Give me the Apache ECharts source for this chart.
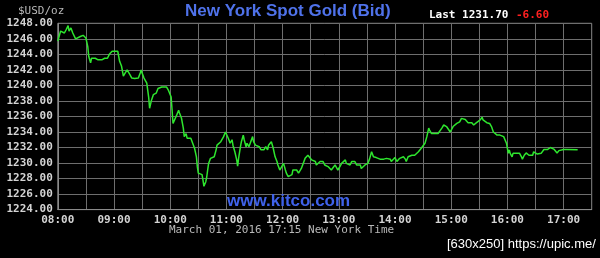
<!DOCTYPE html>
<html>
<head>
<meta charset="utf-8">
<script src="https://cdn.jsdelivr.net/npm/echarts@6/dist/echarts.min.js"></script>
<style>
html,body{margin:0;padding:0;background:#000;}
#chart{width:600px;height:258px;}
</style>
</head>
<body>
<div id="chart"></div>
<script>
// minutes after 08:00 (New York time)
var tMin = [0,3,5,7,9,11,12,14,16,18,19,21,24,27,29,30,32,33,35,36,38,40,43,45,47,49,50,52,53,55,57,58,60,61,63,64,65,66,68,70,72,74,75,77,79,82,86,88,89,90,92,
95,97,98,100,102,105,107,109,111,113,116,118,121,122,123,125,127,129,130,132,134,135,137,138,140,142,144,146,148,149,150,152,154,155,156,158,159,160,161,163,165,167,169,170,172,174,176,177,179,180,182,184,186,187,189,191,192,193,195,196,198,199,201,202,204,206,208,209,211,213,215,217,218,220,222,224,225,
228,230,232,234,235,237,239,241,243,244,246,248,250,251,253,255,257,259,260,262,264,266,267,269,271,273,275,276,278,280,282,283,285,287,289,291,292,294,296,298,299,301,303,305,307,308,310,312,314,315,317,319,321,323,324,326,328,330,331,333,335,337,339,340,342,344,346,348,349,351,353,355,356,358,360,362,364,365,367,369,371,372,374,376,378,380,381,383,385,
387,388,390,392,394,396,397,399,403,406,408,410,412,413,415,417,419,421,422,424,426,428,429,431,433,435,437,438,440,442,444,445,447,449,451,453,454,456,458,460,461,463,465,467,469,472,474,476,477,479,480,481,482,483,485,486,488,490,492,493,495,496,498,500,501,503,505,507,508,510,512,514,516,517,519,521,523,524,526,528,530,532,533,535,537,540,543,555];
var price = [1245.7,1247.0,1247.2,1246.75,1247.2,1247.7,1247.0,1247.4,1246.75,1246.5,1246.0,1246.1,1246.3,1246.45,1246.5,1246.1,1245.0,1243.75,1242.9,1243.5,1243.75,1243.5,1243.3,1243.1,1243.3,1243.1,1243.5,1243.75,1243.5,1244.0,1244.2,1244.4,1244.6,1244.4,1244.2,1244.4,1243.75,1243.1,1242.5,1241.2,1241.6,1242.0,1241.8,1241.4,1240.95,1240.9,1240.95,1241.6,1242.0,1241.6,1240.95,
1240.3,1238.5,1237.05,1238.1,1238.8,1239.0,1239.6,1239.4,1239.8,1240.05,1239.8,1239.4,1238.5,1236.8,1235.1,1235.3,1236.2,1236.8,1236.4,1235.8,1234.5,1233.4,1233.8,1233.2,1233.0,1233.2,1232.55,1231.9,1230.8,1229.5,1228.7,1228.9,1228.5,1227.8,1227.0,1227.6,1228.2,1229.1,1229.95,1230.6,1230.4,1230.8,1231.7,1232.3,1232.1,1232.75,1233.0,1233.4,1234.0,1233.8,1233.2,1232.55,1233.0,1232.3,1231.45,1230.4,1229.6,1230.6,1232.1,1232.75,1233.6,1233.0,1232.1,1232.55,1232.1,1232.75,1233.4,1232.75,1232.3,1232.55,1232.1,1231.7,1231.9,1231.7,1232.1,1231.7,1232.3,
1232.75,1231.9,1230.8,1230.2,1229.75,1229.1,1229.3,1229.95,1229.1,1228.7,1228.25,1228.0,1228.5,1229.1,1229.3,1229.1,1228.7,1228.9,1229.3,1229.95,1230.6,1230.8,1231.0,1230.7,1230.4,1230.6,1230.2,1229.75,1229.95,1230.2,1229.95,1230.2,1229.75,1229.95,1229.5,1229.3,1229.1,1229.3,1229.75,1229.5,1229.1,1229.5,1229.95,1230.2,1230.4,1229.95,1230.2,1229.75,1230.2,1229.95,1230.2,1229.75,1229.95,1229.75,1229.3,1229.5,1229.75,1229.75,1229.95,1230.6,1231.45,1230.8,1230.6,1230.7,1230.6,1230.5,1230.6,1230.5,1230.4,1230.6,1230.4,1230.5,1230.2,1230.4,1230.7,1230.2,1230.4,1230.6,1230.4,1230.8,1230.5,1230.2,1230.8,1230.9,1231.0,1230.9,1231.0,1231.25,1231.45,
1231.7,1231.9,1232.1,1232.55,1233.4,1234.5,1234.2,1233.8,1233.8,1233.8,1234.0,1234.5,1234.9,1235.1,1234.7,1234.35,1234.0,1234.25,1234.7,1234.9,1235.1,1234.9,1235.3,1235.75,1235.9,1235.6,1235.55,1235.2,1235.0,1235.2,1234.9,1235.1,1235.2,1235.3,1235.55,1235.9,1235.55,1235.3,1235.2,1235.2,1235.1,1234.7,1234.0,1233.8,1233.6,1233.6,1233.5,1233.4,1233.2,1232.55,1231.9,1231.25,1231.7,1231.25,1230.8,1231.25,1231.45,1231.25,1231.15,1231.25,1230.8,1230.5,1231.0,1231.3,1231.15,1231.0,1231.25,1231.0,1231.45,1231.3,1231.15,1231.25,1231.25,1231.45,1231.75,1231.9,1231.75,1231.9,1232.0,1231.9,1231.75,1231.6,1231.3,1231.6,1231.75,1231.75,1231.75,1231.70];
var yTicks = [1224,1226,1228,1230,1232,1234,1236,1238,1240,1242,1244,1246,1248];
var xHourLabels = ['08:00','09:00','10:00','11:00','12:00','13:00','14:00','15:00','16:00','17:00'];
var titleText = 'New York Spot Gold (Bid)';
var lastText = 'Last 1231.70';
var changeText = '-6.60';
var unitText = '$USD/oz';
var dateText = 'March 01, 2016 17:15 New York Time';
var siteText = 'www.kitco.com';
var watermark = '[630x250] https://upic.me/';

var seriesData = tMin.map(function(t,i){return [t, price[i]];});
var mono = '"DejaVu Sans Mono", "Liberation Mono", monospace';
var chart = echarts.init(document.getElementById('chart'), null, {renderer:'canvas'});
chart.setOption({
  backgroundColor:'#000',
  animation:false,
  grid:{left:57.8, right:8.3, top:23.3, bottom:48.4, show:true, borderColor:'#8a8a8a', borderWidth:1},
  xAxis:{type:'value', min:0, max:570, interval:30,
    axisLine:{show:true, lineStyle:{color:'#8a8a8a'}}, axisTick:{show:false},
    splitLine:{show:true, lineStyle:{color:'#6e6e6e', width:1}},
    axisLabel:{color:'#d4d4d4', fontFamily:mono, fontWeight:'bold', fontSize:11, margin:5,
      formatter:function(v){ return v%60===0 ? (xHourLabels[v/60]||'') : ''; }}},
  yAxis:{type:'value', min:yTicks[0], max:yTicks[yTicks.length-1], interval:2,
    axisLine:{show:true, lineStyle:{color:'#8a8a8a'}}, axisTick:{show:false},
    splitLine:{show:true, lineStyle:{color:'#6e6e6e', width:1}},
    axisLabel:{color:'#d4d4d4', fontFamily:mono, fontWeight:'bold', fontSize:11, margin:5,
      formatter:function(v){return v.toFixed(2);}}},
  series:[{type:'line', data:seriesData, showSymbol:false, symbol:'none',
    lineStyle:{color:'#2ee62e', width:1.5}, z:3}],
  graphic:[
    {type:'text', left:185, top:3, style:{text:titleText, fill:'#4f72ea', font:'bold 17px "Liberation Sans", Arial, sans-serif'}},
    {type:'text', left:429, top:10, style:{text:lastText, fill:'#ffffff', font:'bold 11px '+mono}},
    {type:'text', left:516, top:10, style:{text:changeText, fill:'#ff2020', font:'bold 11px '+mono}},
    {type:'text', left:18, top:6, style:{text:unitText, fill:'#b8b8b8', font:'11px '+mono}},
    {type:'text', left:169, top:225, style:{text:dateText, fill:'#b8b8b8', font:'11px '+mono}},
    {type:'text', left:227, top:193, style:{text:siteText, fill:'#3f62ea', font:'bold 17px "Liberation Sans", Arial, sans-serif'}, z:10},
    {type:'text', left:447, top:238, style:{text:watermark, fill:'#ffffff', font:'13px "Liberation Sans", sans-serif'}}
  ]
});
</script>
</body>
</html>
